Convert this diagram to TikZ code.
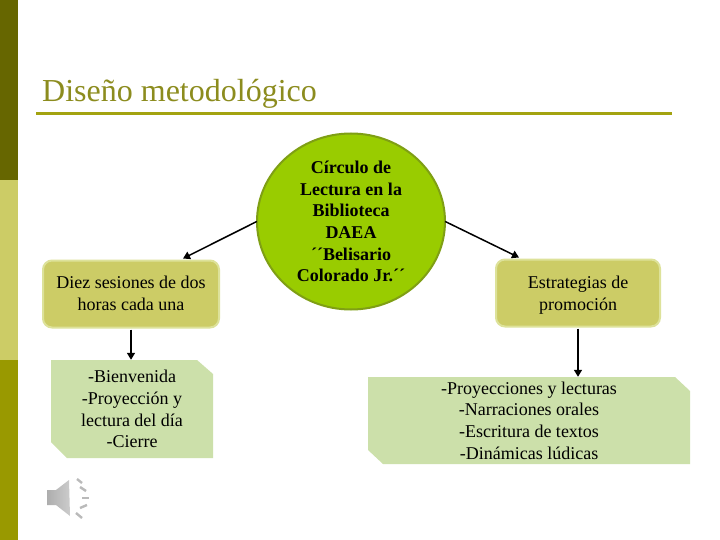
\documentclass[tikz,border=0pt]{standalone}
\usepackage{fontspec}
\setmainfont{Liberation Serif}
\usetikzlibrary{arrows.meta}
\definecolor{barD}{HTML}{666600}
\definecolor{barL}{HTML}{CCCC66}
\definecolor{barM}{HTML}{999900}
\definecolor{ruleC}{HTML}{A3A310}
\definecolor{titleC}{HTML}{8C8C1E}
\definecolor{circF}{HTML}{99CC00}
\definecolor{circB}{HTML}{7F9F14}
\definecolor{boxF}{HTML}{CCCC66}
\definecolor{boxB}{HTML}{DDE29A}
\definecolor{noteF}{HTML}{CCE0AA}
\tikzset{
  x=1pt,y=-1pt,
  bodytext/.style={font=\fontsize{18}{21.7}\selectfont,align=center,text=black,inner sep=0pt},
  roundbox/.style={draw=boxB,fill=boxF,line width=2pt,rounded corners=9pt,inner sep=0pt},
  notebox/.style={draw=none,fill=none,inner sep=0pt},
  arrowline/.style={draw=black,line width=1.5pt,-{Triangle[length=7pt,width=8pt]}},
  barpart/.style={fill=#1,draw=none},
  noteshape/.style={fill=noteF,draw=none}
}
\begin{document}
\begin{tikzpicture}
\useasboundingbox (0,0) rectangle (720,540);
\fill[white] (0,0) rectangle (720,540);
\fill[barpart=barD] (0,0) rectangle (18,180);
\fill[barpart=barL] (0,180) rectangle (18,360);
\fill[barpart=barM] (0,360) rectangle (18,540);
\node[anchor=base west,inner sep=0pt,text=titleC,font=\fontsize{32}{36}\selectfont] (title) at (42,102) {Diseño metodológico};
\coordinate (ruleL) at (36,114);
\coordinate (ruleR) at (672,114);
\draw[ruleC,line width=3pt] (ruleL) -- (ruleR);

\draw[draw=circB,fill=circF,line width=2pt] (351,221.5) ellipse [x radius=94,y radius=88];
\node[notebox,minimum width=188pt,minimum height=176pt] (circ) at (351,221.5) {};
\node[bodytext,font=\fontsize{18}{21.7}\selectfont\bfseries] (circt) at (351,221.5) {Círculo de\\Lectura en la\\Biblioteca\\DAEA\\´´Belisario\\Colorado Jr.´´};

\node[roundbox,minimum width=176pt,minimum height=67pt] (left) at (131,294) {};
\node[bodytext] (leftt) at (131,293.5) {Diez sesiones de dos\\horas cada una};
\node[roundbox,minimum width=164pt,minimum height=67pt] (right) at (578,293) {};
\node[bodytext] (rightt) at (578,295) {Estrategias de\\promoción};

\path[noteshape] (51,360) -- (197,360) -- (213,374) -- (213,458) -- (67,458) -- (51,442) -- cycle;
\node[notebox,minimum width=162pt,minimum height=98pt] (lnote) at (132,409) {};
\node[bodytext] (lnotet) at (132,409) {-Bienvenida\\-Proyección y\\lectura del día\\-Cierre};
\path[noteshape] (368,377) -- (675,377) -- (690,391) -- (690,464) -- (383,464) -- (368,450) -- cycle;
\node[notebox,minimum width=322pt,minimum height=87pt] (rnote) at (529,420.5) {};
\node[bodytext] (rnotet) at (529,420.5) {-Proyecciones y lecturas\\-Narraciones orales\\-Escritura de textos\\-Dinámicas lúdicas};

\draw[arrowline] (circ.west) -- ([xshift=52pt,yshift=1pt]left.north);
\draw[arrowline] (circ.east) -- ([xshift=-59pt,yshift=1pt]right.north);
\draw[arrowline] ([yshift=-1pt]left.south) -- ([xshift=-1pt]lnote.north);
\draw[arrowline] ([yshift=-1pt]right.south) -- ([xshift=49pt]rnote.north);

% speaker icon
\shade[left color=black!32,right color=black!20] (47,490) -- (56,490) -- (69,480) -- (70,516) -- (56,505) -- (47,505) -- cycle;
\foreach \a/\b/\c/\d in {77/479/82/483, 80/487/86/491, 82/498/89/498, 80/508/87/505, 76/513/82/518}{
  \draw[black!27,line width=2.4pt] (\a,\b) -- (\c,\d);
}
\end{tikzpicture}
\end{document}
